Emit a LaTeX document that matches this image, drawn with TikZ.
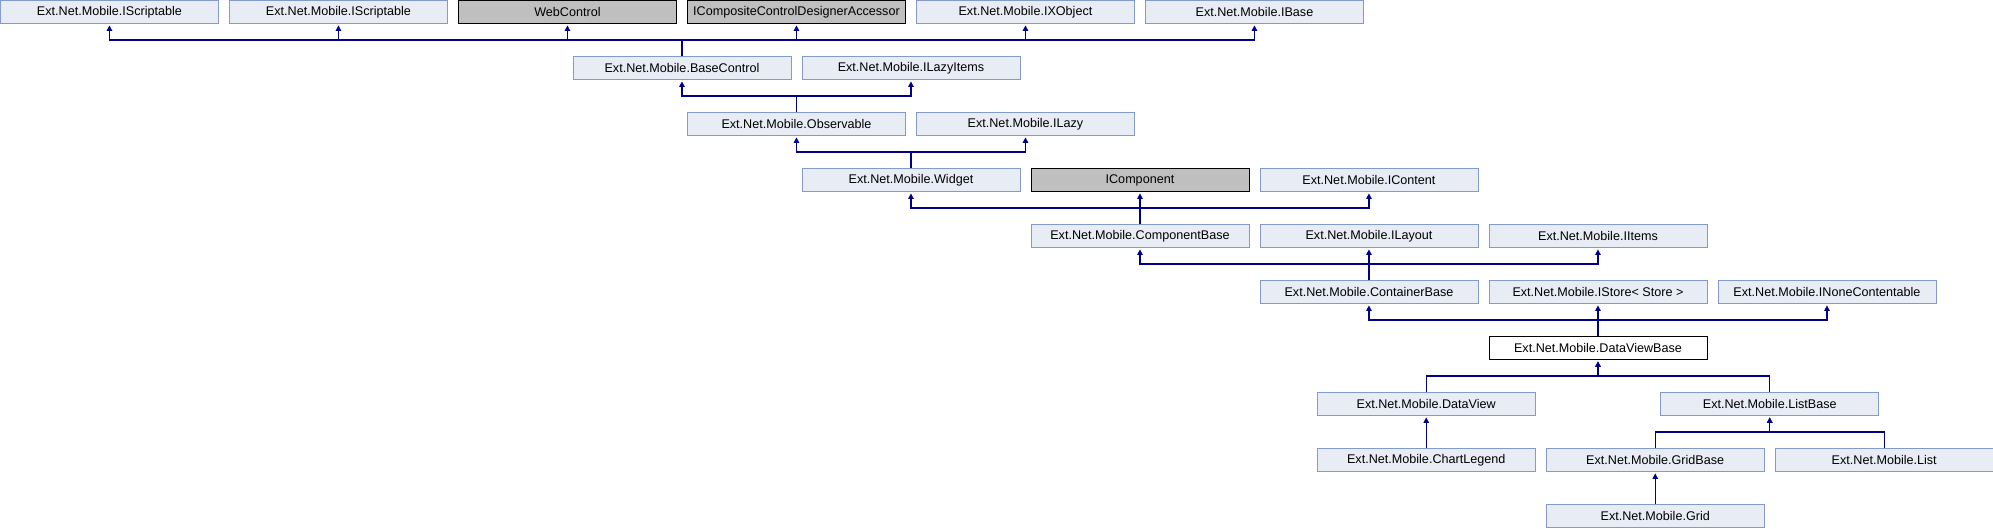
\documentclass[tikz,border=0pt]{standalone}
\usepackage{fontspec}
\setmainfont{Liberation Sans}
\usepackage{xcolor}
\usepackage{tikz}
\usetikzlibrary{arrows.meta}
\definecolor{clsfill}{RGB}{232,236,245}
\definecolor{clsdraw}{RGB}{132,154,204}
\definecolor{extfill}{RGB}{191,191,191}
\definecolor{inhline}{RGB}{0,0,140}
\tikzset{clsnode/.style={shape=rectangle,anchor=north west,inner sep=0pt,
    minimum width=218pt,minimum height=23pt,fill=clsfill,draw=clsdraw,
    line width=0.9pt,font=\fontsize{12.6}{14}\selectfont},
  extnode/.style={clsnode,fill=extfill,draw=black},
  curnode/.style={clsnode,fill=white,draw=black},
  inh/.style={draw=inhline,line width=1.2pt,shorten >=1.5pt,
    -{Triangle[width=5.5pt,length=5.5pt]}}}

\begin{document}
\begin{tikzpicture}[x=114.5pt,y=56pt]
	\useasboundingbox (0,0) rectangle (1993pt,-528pt);
	\node[clsnode] (Scr1) at (0,0) {Ext.Net.Mobile.IScriptable};
	\node[clsnode] (Scr2) at (2,0) {Ext.Net.Mobile.IScriptable};
	\node[extnode] (Web) at (4,0) {WebControl};
	\node[extnode] (ICC) at (6,0) {ICompositeControlDesignerAccessor};
	\node[clsnode] (IXO) at (8,0) {Ext.Net.Mobile.IXObject};
	\node[clsnode] (IBa) at (10,0) {Ext.Net.Mobile.IBase};
	%
	\node[clsnode] (BCt) at (5,-1) {Ext.Net.Mobile.BaseControl};
	\node[clsnode] (ILI) at (7,-1) {Ext.Net.Mobile.ILazyItems};
	%
	\node[clsnode] (Obs) at (6,-2) {Ext.Net.Mobile.Observable};
	\node[clsnode] (ILz) at (8,-2) {Ext.Net.Mobile.ILazy};
	%
	\node[clsnode] (Wdg) at (7,-3) {Ext.Net.Mobile.Widget};
	\node[extnode] (ICo) at (9,-3) {IComponent};
	\node[clsnode] (ICn) at (11,-3) {Ext.Net.Mobile.IContent};
	%
	\node[clsnode] (CmB) at (9,-4) {Ext.Net.Mobile.ComponentBase};
	\node[clsnode] (ILa) at (11,-4) {Ext.Net.Mobile.ILayout};
	\node[clsnode] (IIt) at (13,-4) {Ext.Net.Mobile.IItems};
	%
	\node[clsnode] (CtB) at (11,-5) {Ext.Net.Mobile.ContainerBase};
	\node[clsnode] (ISt) at (13,-5) {Ext.Net.Mobile.IStore< Store >};
	\node[clsnode] (INC) at (15,-5) {Ext.Net.Mobile.INoneContentable};
	%
	\node[curnode] (DVB) at (13,-6) {Ext.Net.Mobile.DataViewBase};
	%
	\node[clsnode] (DVw) at (11.5,-7) {Ext.Net.Mobile.DataView};
	\node[clsnode] (LsB) at (14.5,-7) {Ext.Net.Mobile.ListBase};
	%
	\node[clsnode] (ChL) at (11.5,-8) {Ext.Net.Mobile.ChartLegend};
	\node[clsnode] (GrB) at (13.5,-8) {Ext.Net.Mobile.GridBase};
	\node[clsnode] (Lst) at (15.5,-8) {Ext.Net.Mobile.List};
	%
	\node[clsnode] (Grd) at (13.5,-9) {Ext.Net.Mobile.Grid};
	%
	\foreach \p in {Scr1,Scr2,Web,ICC,IXO,IBa}
		\draw[inh] (BCt.north) -- ++(0,16pt) -| (\p.south);
	\foreach \c/\p in {Obs/BCt,Obs/ILI,Wdg/Obs,Wdg/ILz,CmB/Wdg,CmB/ICo,CmB/ICn,
		CtB/CmB,CtB/ILa,CtB/IIt,DVB/CtB,DVB/ISt,DVB/INC,DVw/DVB,LsB/DVB,
		ChL/DVw,GrB/LsB,Lst/LsB,Grd/GrB}
		\draw[inh] (\c.north) -- ++(0,16pt) -| (\p.south);
\end{tikzpicture}
\end{document}
